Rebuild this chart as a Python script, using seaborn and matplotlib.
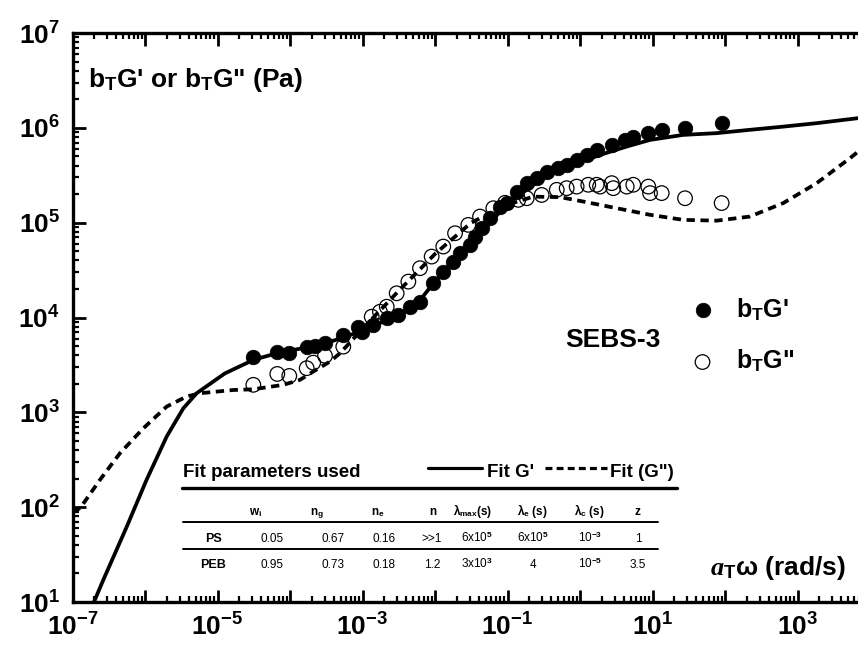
import matplotlib
matplotlib.use("Agg")
import matplotlib.pyplot as plt
import seaborn as sns
import numpy as np
import pandas as pd
from matplotlib.ticker import LogLocator, FuncFormatter, NullFormatter
from matplotlib.lines import Line2D

# ---------------- data ----------------
gp_omega = [3.12e-5, 6.68e-5, 9.77e-5, 1.70e-4, 2.21e-4, 3.04e-4, 5.43e-4, 8.75e-4, 9.75e-4,
            1.41e-3, 2.16e-3, 3.12e-3, 4.52e-3, 6.21e-3, 9.48e-3, 1.30e-2, 1.79e-2, 2.21e-2,
            3.04e-2, 3.56e-2, 4.41e-2, 5.74e-2, 7.89e-2, 9.75e-2, 0.134, 0.184, 0.253, 0.348,
            0.502, 0.655, 0.899, 1.24, 1.70, 2.74, 4.18, 5.43, 8.75, 13.4, 28.1, 89.9]
gp_mod = [3.87e3, 4.37e3, 4.27e3, 4.93e3, 5.01e3, 5.36e3, 6.55e3, 8.02e3, 7.10e3,
          8.36e3, 9.84e3, 1.06e4, 1.30e4, 1.47e4, 2.30e4, 3.05e4, 3.89e4, 4.76e4,
          5.83e4, 7.13e4, 8.75e4, 1.11e5, 1.48e5, 1.61e5, 2.13e5, 2.61e5, 2.94e5, 3.46e5,
          3.76e5, 4.07e5, 4.59e5, 5.19e5, 5.86e5, 6.62e5, 7.46e5, 8.09e5, 8.79e5, 9.53e5,
          9.93e5, 1.12e6]

gpp_omega = [3.12e-5, 6.68e-5, 9.77e-5, 1.70e-4, 2.09e-4, 3.04e-4, 5.43e-4, 1.34e-3, 1.74e-3,
             2.16e-3, 2.96e-3, 4.29e-3, 6.21e-3, 8.99e-3, 1.30e-2, 1.89e-2, 2.88e-2, 4.18e-2,
             6.37e-2, 9.25e-2, 0.141, 0.184, 0.296, 0.478, 0.655, 0.899, 1.30, 1.70, 1.89,
             2.74, 2.88, 4.41, 5.43, 8.75, 9.25, 13.4, 28.1, 89.9]
gpp_mod = [1.95e3, 2.54e3, 2.42e3, 2.92e3, 3.34e3, 3.94e3, 4.93e3, 1.02e4, 1.15e4,
           1.30e4, 1.80e4, 2.39e4, 3.31e4, 4.39e4, 5.60e4, 7.74e4, 9.48e4, 1.16e5,
           1.42e5, 1.62e5, 1.74e5, 1.81e5, 1.96e5, 2.22e5, 2.31e5, 2.40e5, 2.51e5, 2.51e5, 2.40e5,
           2.61e5, 2.31e5, 2.40e5, 2.51e5, 2.40e5, 2.05e5, 2.05e5, 1.81e5, 1.61e5]

fit_gp_omega = [1.9e-7, 2.66e-7, 5.60e-7, 1.05e-6, 1.99e-6, 3.37e-6, 5.16e-6, 1.26e-5, 3.12e-5,
                6.56e-5, 1.58e-4, 3.16e-4, 1.0e-3, 3.16e-3, 6.31e-3, 1.0e-2, 3.16e-2, 0.1,
                0.316, 1.0, 2.0, 4.41, 9.25, 26.6, 76.7, 221, 637, 1.84e3, 6.55e3, 1.0e4]
fit_gp_mod = [9.3, 17.1, 62.2, 194, 555, 1.10e3, 1.59e3, 2.57e3, 3.57e3,
              4.20e3, 4.79e3, 5.37e3, 7.24e3, 1.07e4, 1.55e4, 2.40e4, 6.17e4, 1.58e5,
              3.02e5, 4.37e5, 5.25e5, 6.35e5, 7.46e5, 8.43e5, 8.79e5, 9.53e5, 1.03e6, 1.12e6,
              1.26e6, 1.32e6]

fit_gpp_omega = [1.0e-7, 1.27e-7, 2.39e-7, 4.52e-7, 9.49e-7, 1.99e-6, 3.76e-6, 5.74e-6, 1.65e-5,
                 3.12e-5, 8.09e-5, 1.37e-4, 2.09e-4, 3.56e-4, 4.90e-4, 1.0e-3, 3.16e-3, 1.0e-2,
                 3.16e-2, 0.1, 0.226, 0.530, 1.11, 3.21, 9.25, 26.6, 76.7, 221, 637, 1.84e3,
                 5.30e3, 1.0e4]
fit_gpp_mod = [89, 97.3, 194, 371, 679, 1.15e3, 1.47e3, 1.59e3, 1.72e3,
               1.75e3, 1.95e3, 2.20e3, 2.69e3, 3.43e3, 4.20e3, 7.59e3, 1.91e4, 4.68e4,
               1.0e5, 1.55e5, 1.88e5, 1.86e5, 1.67e5, 1.42e5, 1.21e5, 1.07e5, 1.05e5, 1.16e5,
               1.61e5, 2.61e5, 4.79e5, 7.08e5]

table_headers = [r"w$_{\mathbf{i}}$", r"n$_{\mathbf{g}}$", r"n$_{\mathbf{e}}$", "n",
                 r"λ$_{\mathbf{max}}$(s)", r"λ$_{\mathbf{e}}$ (s)", r"λ$_{\mathbf{c}}$ (s)", "z"]
row_labels = ["PS", "PEB"]
ps_values = ["0.05", "0.67", "0.16", ">>1", r"6x10$^{\mathsf{5}}$", r"6x10$^{\mathsf{5}}$",
             r"10$^{\mathsf{-3}}$", "1"]
peb_values = ["0.95", "0.73", "0.18", "1.2", r"3x10$^{\mathsf{3}}$", "4",
              r"10$^{\mathsf{-5}}$", "3.5"]

label_gp = "b$_{\\mathbf{T}}$G'"
label_gpp = 'b$_{\\mathbf{T}}$G"'
y_title = "b$_{\\mathbf{T}}$G' or b$_{\\mathbf{T}}$G\" (Pa)"
x_title = "$a_{\\mathbf{T}}$ω (rad/s)"

# ---------------- style ----------------
sns.set_theme(style="ticks")
plt.rcParams['font.family'] = ['Liberation Sans', 'DejaVu Sans']
plt.rcParams['font.weight'] = 'bold'
plt.rcParams['text.color'] = 'black'
plt.rcParams['axes.labelcolor'] = 'black'
plt.rcParams['xtick.color'] = 'black'
plt.rcParams['ytick.color'] = 'black'
plt.rcParams['axes.edgecolor'] = 'black'
plt.rcParams['mathtext.fontset'] = 'custom'
plt.rcParams['mathtext.rm'] = 'Liberation Sans:bold'
plt.rcParams['mathtext.bf'] = 'Liberation Sans:bold'
plt.rcParams['mathtext.sf'] = 'Liberation Sans'
plt.rcParams['mathtext.it'] = 'Liberation Serif:italic'
plt.rcParams['lines.scale_dashes'] = False
plt.rcParams['lines.dashed_pattern'] = [6.0, 4.0]

W, H = 858, 653
fig = plt.figure(figsize=(W / 100, H / 100), dpi=100)
fig.patch.set_facecolor('white')
ax = fig.add_axes([72.5 / W, 1 - 602 / H, 797.5 / W, 569 / H])
ax.set_facecolor('white')
ax.set_xscale('log')
ax.set_yscale('log')

def fx(px):
    return px / W

def fy(py):
    return 1 - py / H

# fit curves
fit1 = pd.DataFrame({"omega": fit_gp_omega, "mod": fit_gp_mod})
fit2 = pd.DataFrame({"omega": fit_gpp_omega, "mod": fit_gpp_mod})
sns.lineplot(data=fit1, x="omega", y="mod", estimator=None, sort=False, color='black',
             lw=2.7, ax=ax, legend=False, zorder=2)
sns.lineplot(data=fit2, x="omega", y="mod", estimator=None, sort=False, color='black',
             lw=2.7, linestyle='--', ax=ax, legend=False, zorder=2)

# data points
d1 = pd.DataFrame({"omega": gp_omega, "mod": gp_mod})
d2 = pd.DataFrame({"omega": gpp_omega, "mod": gpp_mod})
sns.scatterplot(data=d2, x="omega", y="mod", marker='o', s=110, facecolor='none',
                edgecolor='black', linewidth=0.9, ax=ax, zorder=3, label=label_gpp)
sns.scatterplot(data=d1, x="omega", y="mod", marker='o', s=110, color='black',
                edgecolor='black', linewidth=0.5, ax=ax, zorder=4, label=label_gp)

ax.set_xlim(1e-7, 1e4)
ax.set_ylim(1e1, 1e7)
ax.set_xlabel("")
ax.set_ylabel("")

# axes / ticks
for sp in ax.spines.values():
    sp.set_visible(True)
    sp.set_linewidth(2.4)
    sp.set_color('black')

ax.xaxis.set_major_locator(LogLocator(base=10, numticks=30))
ax.yaxis.set_major_locator(LogLocator(base=10, numticks=30))
ax.xaxis.set_minor_locator(LogLocator(base=10, subs=np.arange(2, 10), numticks=30))
ax.yaxis.set_minor_locator(LogLocator(base=10, subs=np.arange(2, 10), numticks=30))

def xfmt(v, pos):
    e = int(round(np.log10(v)))
    return r"$\mathbf{10^{%d}}$" % e if e % 2 != 0 else ""

def yfmt(v, pos):
    e = int(round(np.log10(v)))
    return r"$\mathbf{10^{%d}}$" % e

ax.xaxis.set_major_formatter(FuncFormatter(xfmt))
ax.yaxis.set_major_formatter(FuncFormatter(yfmt))
ax.xaxis.set_minor_formatter(NullFormatter())
ax.yaxis.set_minor_formatter(NullFormatter())
ax.tick_params(which='both', direction='in', top=True, right=True, colors='black')
ax.tick_params(which='major', length=9, width=2.0, labelsize=19, pad=9)
ax.tick_params(axis='x', which='major', pad=8)
ax.tick_params(which='minor', length=4.5, width=1.6)

# legend
h, l = ax.get_legend_handles_labels()
ax.legend(handles=h[::-1], labels=l[::-1], loc='upper left',
          bbox_to_anchor=(fx(690), fy(296)), bbox_transform=fig.transFigure,
          frameon=False, fontsize=18, handlelength=1.0, handletextpad=0.85,
          labelspacing=1.0, borderpad=0, borderaxespad=0, labelcolor='black')

# annotations
fig.text(fx(88), fy(87), y_title, fontsize=19, fontweight='bold', va='baseline', ha='left')
fig.text(fx(565), fy(347), "SEBS-3", fontsize=19, fontweight='bold', va='baseline', ha='left')
fig.text(fx(846), fy(575), x_title, fontsize=19, fontweight='bold', va='baseline', ha='right')

# parameter table
fig.text(fx(183), fy(477), "Fit parameters used", fontsize=13.5, fontweight='bold',
         va='baseline', ha='left')
fig.add_artist(Line2D([fx(428), fx(482)], [fy(468), fy(468)], color='black', lw=2.3,
                      transform=fig.transFigure))
fig.text(fx(487), fy(477), "Fit G'", fontsize=13.5, fontweight='bold', va='baseline', ha='left')
fig.add_artist(Line2D([fx(545), fx(607)], [fy(468), fy(468)], color='black', lw=2.3,
                      dashes=(5.0, 3.0), transform=fig.transFigure))
fig.text(fx(610), fy(477), "Fit (G\")", fontsize=13.5, fontweight='bold', va='baseline',
         ha='left')
fig.add_artist(Line2D([fx(182), fx(677)], [fy(488), fy(488)], color='black', lw=2.4,
                      transform=fig.transFigure))
fig.add_artist(Line2D([fx(183), fx(658)], [fy(522), fy(522)], color='black', lw=1.4,
                      transform=fig.transFigure))
fig.add_artist(Line2D([fx(183), fx(658)], [fy(549), fy(549)], color='black', lw=1.4,
                      transform=fig.transFigure))

header_x = [256, 317, 378, 433, 473, 532, 589, 637]
value_x = [272, 333, 384, 432, 477, 533, 590, 638]
for hx, htxt in zip(header_x, table_headers):
    fig.text(fx(hx), fy(515), htxt, fontsize=8.5, fontweight='bold', va='baseline', ha='center')
for ry, lab, vals in zip([542, 568], row_labels, [ps_values, peb_values]):
    fig.text(fx(213), fy(ry), lab, fontsize=9, fontweight='bold', va='baseline', ha='center')
    for vx, v in zip(value_x, vals):
        fig.text(fx(vx), fy(ry), v, fontsize=8.5, fontweight='normal', va='baseline',
                 ha='center')

fig.savefig("out.png", dpi=100, facecolor='white')
